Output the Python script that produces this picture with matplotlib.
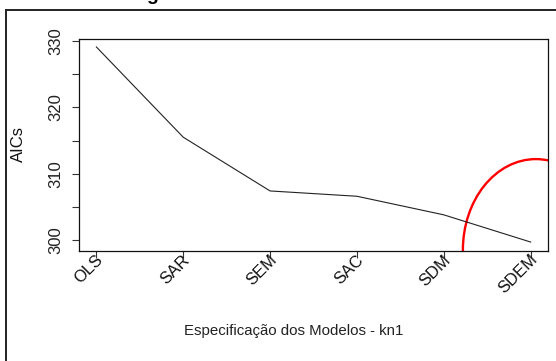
import matplotlib
matplotlib.use("Agg")
import matplotlib.pyplot as plt
from matplotlib.patches import Ellipse
from matplotlib.lines import Line2D
from matplotlib import font_manager

models = ["OLS", "SAR", "SEM", "SAC", "SDM", "SDEM"]
aics = [329.1, 315.5, 307.4, 306.6, 303.8, 299.7]
ytick_major = [300, 310, 320, 330]
ytick_minor = [305, 315, 325]
xlabel = "Especificação dos Modelos - kn1"
ylabel = "AICs"
# red hand-drawn highlight (ellipse) in data units
hl_center = (6.06, 298.5)
hl_width = 1.68
hl_height = 27.4

names = {f.name for f in font_manager.fontManager.ttflist}
base = "Liberation Sans" if "Liberation Sans" in names else "DejaVu Sans"
plt.rcParams["font.family"] = [base, "DejaVu Sans"]

W, H = 556, 361
fig = plt.figure(figsize=(W / 100, H / 100), dpi=100)
ax = fig.add_axes([79 / W, 1 - 251 / H, (548 - 79) / W, (251 - 39) / H])

x = list(range(1, len(models) + 1))
ax.plot(x, aics, color="#222222", lw=0.8)

e = Ellipse(hl_center, hl_width, hl_height, fill=False, edgecolor="#ff0000", lw=1.7)
ax.add_patch(e)
e.set_clip_path(ax.patch)

ax.set_xlim(0.8, 6.2)
ax.set_ylim(298.35, 330.3)

ax.set_yticks(ytick_major + ytick_minor)
ax.set_yticklabels([str(v) for v in ytick_major] + [""] * len(ytick_minor),
                   rotation=90, va="center", fontsize=12, color="#222222")
ax.set_xticks(x)
ax.set_xticklabels([])
ax.tick_params(axis="both", direction="out", length=5, width=0.8, color="#333333")
ax.tick_params(axis="y", pad=6)
for s in ax.spines.values():
    s.set_linewidth(0.9)
    s.set_color("#111111")

for xi, name in zip(x, models):
    ax.annotate(name, xy=(xi, 298.35), xytext=(3, -4.5), textcoords="offset points",
                rotation=45, rotation_mode="anchor", ha="right", va="center",
                fontsize=12, color="#111111", annotation_clip=False)

fig.text(18 / W, 1 - 144 / H, ylabel, rotation=90, ha="center", va="center",
         fontsize=12, color="#111111")
fig.text(294 / W, 1 - 331 / H, xlabel, ha="center", va="center",
         fontsize=10.8, color="#222222")

# cropped title descender and outer border
fig.text(152 / W, 1.0, "g", ha="center", va="baseline", fontsize=14,
         fontweight="bold", color="black")
fig.add_artist(Line2D([5.5 / W, 1.0], [1 - 10 / H, 1 - 10 / H], transform=fig.transFigure,
                      color="#222222", lw=1.4))
fig.add_artist(Line2D([5.5 / W, 5.5 / W], [0.0, 1 - 10 / H], transform=fig.transFigure,
                      color="#222222", lw=1.4))

fig.savefig("out.png", dpi=100)
